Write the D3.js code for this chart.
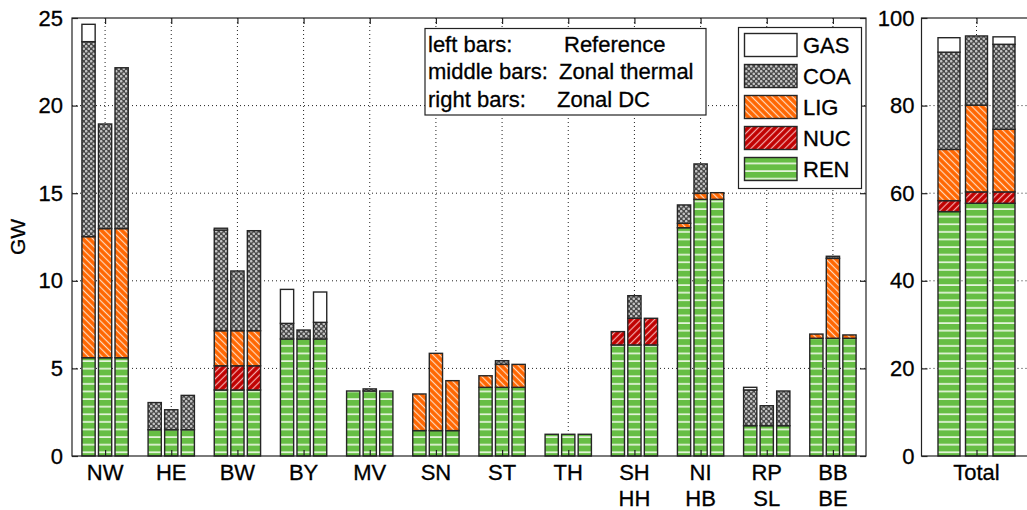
<!DOCTYPE html>
<html>
<head>
<meta charset="utf-8">
<script src="https://cdn.jsdelivr.net/npm/d3@7"></script>
<style>
  html, body { margin: 0; padding: 0; background: #fff; }
  svg { display: block; font-family: Arial, "Liberation Sans", sans-serif; }
  svg text { stroke: #000; stroke-width: 0.3px; fill: #000; }
</style>
</head>
<body>
<svg id="chart" width="1027" height="510"></svg>
<script>
// ---------------- data ----------------
const regionLine1 = ["NW","HE","BW","BY","MV","SN","ST","TH","SH","NI","RP","BB"];
const regionLine2 = ["","","","","","","","","HH","HB","SL","BE"];
const scenarioNames = ["Reference","Zonal thermal","Zonal DC"];
const scenarioLabels = ["left bars:","middle bars:","right bars:"];
const fuels = ["GAS","COA","LIG","NUC","REN"];      // legend order (top to bottom)
const stackOrder = ["REN","NUC","LIG","COA","GAS"]; // bottom to top

// GW per region, one row per scenario [Reference, Zonal thermal, Zonal DC]
const REN = [
  [5.61,1.50,3.77,6.68,3.71,1.45,3.92,1.24,6.34,13.03,1.73,6.72],
  [5.61,1.50,3.77,6.68,3.71,1.45,3.92,1.24,6.34,14.65,1.73,6.72],
  [5.61,1.50,3.77,6.68,3.71,1.45,3.92,1.24,6.34,14.65,1.73,6.72]
];
const NUC = [
  [0,0,1.38,0,0,0,0,0,0.76,0,0,0],
  [0,0,1.38,0,0,0,0,0,1.52,0,0,0],
  [0,0,1.38,0,0,0,0,0,1.52,0,0,0]
];
const LIG = [
  [6.91,0,2.00,0,0,2.09,0.66,0,0,0.25,0,0.24],
  [7.37,0,2.00,0,0,4.41,1.31,0,0,0.34,0,4.56],
  [7.37,0,2.00,0,0,2.85,1.31,0,0,0.38,0,0.19]
];
const COA = [
  [11.13,1.55,5.75,0.89,0,0,0,0,0,1.05,2.04,0],
  [5.97,1.14,3.41,0.51,0.12,0,0.21,0,1.29,1.68,1.14,0.12],
  [9.18,1.96,5.71,0.95,0,0,0,0,0,0,1.98,0]
];
const GAS = [
  [0.99,0,0.10,1.94,0,0,0,0,0,0,0.15,0],
  [0,0,0,0,0,0,0,0,0,0,0,0],
  [0,0,0,1.73,0,0,0,0,0,0,0,0]
];
// Germany total, one value per scenario
const totalREN = [55.8,57.7,57.7];
const totalNUC = [2.5,2.6,2.6];
const totalLIG = [11.7,19.8,14.3];
const totalCOA = [22.2,15.8,19.4];
const totalGAS = [3.3,0,1.7];

const leftTicks = [0,5,10,15,20,25];
const rightTicks = [0,20,40,60,80,100];

// ---------------- setup ----------------
const svg = d3.select("#chart");
const defs = svg.append("defs");
const FONT = 22;

function stripePattern(id, bg, fg, angle, period, sw) {
  const p = defs.append("pattern").attr("id", id)
    .attr("patternUnits","userSpaceOnUse")
    .attr("width", period).attr("height", period)
    .attr("patternTransform", `rotate(${angle})`);
  p.append("rect").attr("width", period).attr("height", period).attr("fill", bg);
  p.append("line").attr("x1", period/2).attr("x2", period/2).attr("y1", -1).attr("y2", period+1)
    .attr("stroke", fg).attr("stroke-width", sw);
}
(function(){
  const p = defs.append("pattern").attr("id","pREN").attr("patternUnits","userSpaceOnUse")
    .attr("width", 10).attr("height", 7.6);
  p.append("rect").attr("width",10).attr("height",7.6).attr("fill","#66be44");
  p.append("rect").attr("y",3.1).attr("width",10).attr("height",1.6).attr("fill","#eef8e6");
})();
stripePattern("pLIG", "#ff6600", "#ffdcc0", -45, 4.8, 1.2);
stripePattern("pNUC", "#c00000", "#f4b0b0", 45, 4.8, 1.2);
(function(){
  const s = 5;
  const p = defs.append("pattern").attr("id","pCOA").attr("patternUnits","userSpaceOnUse")
    .attr("width", s).attr("height", s);
  p.append("rect").attr("width",s).attr("height",s).attr("fill","#484848");
  p.append("circle").attr("cx",s/4).attr("cy",s/4).attr("r",1.3).attr("fill","#c4c4c4");
  p.append("circle").attr("cx",3*s/4).attr("cy",3*s/4).attr("r",1.3).attr("fill","#c4c4c4");
})();
const fillFor = {GAS:"#ffffff", COA:"url(#pCOA)", LIG:"url(#pLIG)", NUC:"url(#pNUC)", REN:"url(#pREN)"};

const yTop = 18, yBottom = 456;
const L = {x0: 72, x1: 866};
const R = {x0: 921.5, x1: 1031.5};

const xL = d3.scaleLinear().domain([0.5, 12.5]).range([L.x0, L.x1]);
const yL = d3.scaleLinear().domain([0, 25]).range([yBottom, yTop]);
const xR = d3.scaleLinear().domain([0.5, 1.5]).range([R.x0, R.x1]);
const yR = d3.scaleLinear().domain([0, 100]).range([yBottom, yTop]);

const offsets = [-0.25, 0, 0.25];
const barW = 0.2;

const gridColor = "#222";

function drawGrid(g, x, y, xs, ys, x0, x1) {
  g.selectAll("line.h").data(ys).enter().append("line")
    .attr("x1", x0).attr("x2", x1).attr("y1", d => y(d)).attr("y2", d => y(d))
    .attr("stroke", gridColor).attr("stroke-width", 1).attr("stroke-dasharray", "1,3");
  g.selectAll("line.v").data(xs).enter().append("line")
    .attr("x1", d => x(d)).attr("x2", d => x(d)).attr("y1", yTop).attr("y2", yBottom)
    .attr("stroke", gridColor).attr("stroke-width", 1).attr("stroke-dasharray", "1,3");
}

// ---------------- left panel ----------------
const gL = svg.append("g");
drawGrid(gL, xL, yL, d3.range(1, 13), [5,10,15,20], L.x0, L.x1);

const fuelArrays = {REN, NUC, LIG, COA, GAS};
const rows = [];
for (let s = 0; s < 3; s++) {
  for (let i = 0; i < regionLine1.length; i++) {
    const r = {pos: i + 1 + offsets[s]};
    stackOrder.forEach(f => r[f] = fuelArrays[f][s][i]);
    rows.push(r);
  }
}
const stackGen = d3.stack().keys(stackOrder);
function drawStacks(g, data, x, y) {
  const series = stackGen(data);
  series.forEach(ser => {
    g.append("g").selectAll("rect")
      .data(ser.filter(d => d[1] - d[0] > 1e-6))
      .enter().append("rect")
      .attr("x", d => x(d.data.pos - barW/2))
      .attr("width", d => x(d.data.pos + barW/2) - x(d.data.pos - barW/2))
      .attr("y", d => y(d[1]))
      .attr("height", d => y(d[0]) - y(d[1]))
      .attr("fill", fillFor[ser.key])
      .attr("stroke", "#262626").attr("stroke-width", 1.4);
  });
}
drawStacks(gL, rows, xL, yL);

gL.append("rect").attr("x", L.x0).attr("y", yTop).attr("width", L.x1 - L.x0).attr("height", yBottom - yTop)
  .attr("fill", "none").attr("stroke", "#222").attr("stroke-width", 1.2);

const yAxisL = d3.axisLeft(yL).tickValues(leftTicks).tickSize(-6).tickPadding(9).tickFormat(d3.format("d"));
gL.append("g").attr("transform", `translate(${L.x0},0)`).call(yAxisL);
gL.append("g").attr("transform", `translate(${L.x1},0)`).call(d3.axisRight(yL).tickValues(leftTicks).tickSize(-6).tickFormat(""));
gL.append("g").attr("transform", `translate(0,${yBottom})`).call(d3.axisBottom(xL).tickValues(d3.range(1, 13)).tickSize(-6).tickFormat(""));
gL.append("g").attr("transform", `translate(0,${yTop})`).call(d3.axisTop(xL).tickValues(d3.range(1, 13)).tickSize(-6).tickFormat(""));

const labs = gL.append("g");
regionLine1.forEach((t, i) => {
  const txt = labs.append("text").attr("x", xL(i + 1)).attr("y", 480)
    .attr("text-anchor", "middle").attr("font-size", FONT);
  txt.append("tspan").attr("x", xL(i + 1)).attr("y", 480).text(t);
  if (regionLine2[i]) txt.append("tspan").attr("x", xL(i + 1)).attr("y", 506).text(regionLine2[i]);
});

svg.append("text").attr("transform", `translate(25,237) rotate(-90)`)
  .attr("text-anchor", "middle").attr("font-size", 21).text("GW");

// ---------------- info box ----------------
const info = svg.append("g");
info.append("rect").attr("x", 425).attr("y", 28.5).attr("width", 281).attr("height", 86.5)
  .attr("fill", "#fff").attr("stroke", "#222").attr("stroke-width", 1.2);
const valueX = [564, 559, 557];
scenarioLabels.forEach((t, i) => {
  info.append("text").attr("x", 428).attr("y", 51.5 + i * 27.5).attr("font-size", FONT).text(t);
  info.append("text").attr("x", valueX[i]).attr("y", 51.5 + i * 27.5).attr("font-size", FONT).text(scenarioNames[i]);
});

// ---------------- legend ----------------
const leg = svg.append("g");
leg.append("rect").attr("x", 738.5).attr("y", 27.5).attr("width", 123).attr("height", 161)
  .attr("fill", "#fff").attr("stroke", "#222").attr("stroke-width", 1.2);
fuels.forEach((f, i) => {
  const yy = 33.5 + i * 31;
  leg.append("rect").attr("x", 744.5).attr("y", yy).attr("width", 52.5).attr("height", 23)
    .attr("fill", fillFor[f]).attr("stroke", "#262626").attr("stroke-width", 1.4);
  leg.append("text").attr("x", 803).attr("y", yy + 19.5).attr("font-size", FONT).text(f);
});

// ---------------- right panel (Total) ----------------
const gR = svg.append("g");
drawGrid(gR, xR, yR, [1], [20,40,60,80], R.x0, R.x1);
const totRows = [0,1,2].map(s => ({
  pos: 1 + offsets[s],
  REN: totalREN[s], NUC: totalNUC[s], LIG: totalLIG[s], COA: totalCOA[s], GAS: totalGAS[s]
}));
drawStacks(gR, totRows, xR, yR);
gR.append("rect").attr("x", R.x0).attr("y", yTop).attr("width", R.x1 - R.x0).attr("height", yBottom - yTop)
  .attr("fill", "none").attr("stroke", "#222").attr("stroke-width", 1.2);
gR.append("g").attr("transform", `translate(${R.x0},0)`).call(d3.axisLeft(yR).tickValues(rightTicks).tickSize(-6).tickPadding(7).tickFormat(d3.format("d")));
gR.append("g").attr("transform", `translate(0,${yBottom})`).call(d3.axisBottom(xR).tickValues([1]).tickSize(-6).tickFormat(""));
gR.append("g").attr("transform", `translate(0,${yTop})`).call(d3.axisTop(xR).tickValues([1]).tickSize(-6).tickFormat(""));
gR.append("text").attr("x", xR(1)).attr("y", 480).attr("text-anchor", "middle").attr("font-size", FONT).text("Total");

svg.selectAll(".domain").remove();
svg.selectAll(".tick line").attr("stroke", "#222").attr("stroke-width", 1.2);
svg.selectAll(".tick text").attr("font-size", FONT).attr("fill", "#000")
  .attr("font-family", "Arial, 'Liberation Sans', sans-serif");
</script>
</body>
</html>
